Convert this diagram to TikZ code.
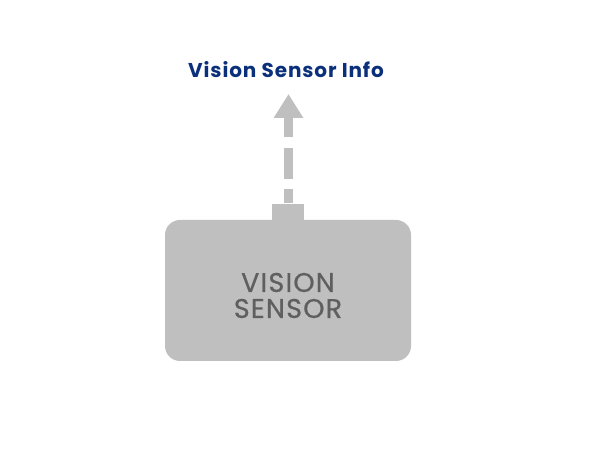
\documentclass[tikz,border=0pt]{standalone}
\usepackage{fontspec}
\setmainfont{Poppins}
\newfontfamily\sensorfont[LetterSpace=4.5,FakeBold=0.7]{Poppins}
\newfontfamily\infofont[LetterSpace=4.5]{Poppins}
\usetikzlibrary{arrows.meta,positioning}
\definecolor{boxgray}{HTML}{BFBFBF}
\definecolor{textgray}{HTML}{5F5F5F}
\definecolor{infoblue}{HTML}{0A2F7B}
\begin{document}
\begin{tikzpicture}[x=1pt,y=1pt,node distance=0pt]
  \tikzstyle{sensorbox}=[fill=boxgray,rounded corners=15pt,minimum width=246pt,minimum height=141pt,inner sep=0pt]
  \tikzstyle{sensortext}=[text=textgray,font=\sensorfont\fontsize{27}{26}\selectfont,align=center,inner sep=0pt]
  \tikzstyle{portbox}=[fill=boxgray,minimum width=32pt,minimum height=16pt,inner sep=0pt]
  \tikzstyle{infolabel}=[text=infoblue,font=\infofont\bfseries\fontsize{20}{22}\selectfont,inner sep=0pt]
  \tikzstyle{dataflow}=[draw=boxgray,line width=9pt,dash pattern=on 31pt off 10.5pt,dash phase=17pt,
                        -{Triangle[length=24pt,width=28pt]}]

  \useasboundingbox (0,0) rectangle (600,450);

  \node[sensorbox]  (sensor) at (288,159.5) {};
  \node[sensortext] (name)   at ([yshift=-5pt]sensor.center) {VISION\\SENSOR};
  \node[portbox]    (port)   [above=of sensor] {};
  \coordinate       (tip)    at (288.5,356);
  \node[infolabel]  (info)   at (286,380) {Vision Sensor Info};

  \draw[dataflow] (port.north -| tip) -- (tip);
\end{tikzpicture}
\end{document}
